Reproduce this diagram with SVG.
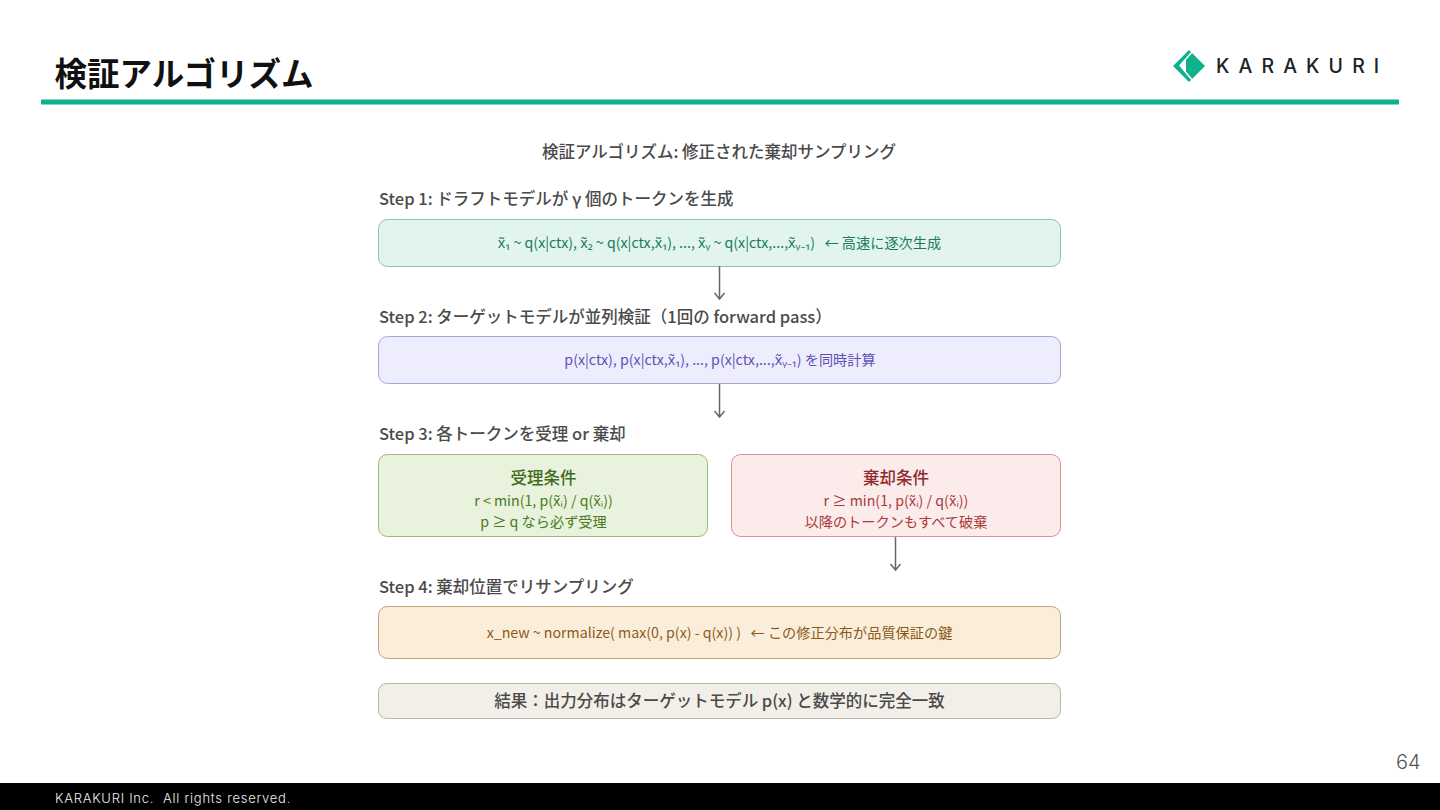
<svg xmlns="http://www.w3.org/2000/svg" width="1440" height="810" viewBox="0 0 1440 810">
<style>
text{font-family:"Noto Sans CJK JP","Noto Sans",sans-serif;white-space:pre}
.h{font-size:16.500px;font-weight:500;fill:#4a4a4a}
.c{text-anchor:middle}
.b{stroke-width:1;}
.l{font-size:14.200px}
.conn path{fill:none;stroke:#666;stroke-width:1.500}
</style>
<rect width="1440" height="810" fill="#fff"/>
<g id="header">
<text x="54.500" y="86" font-size="32.500" font-weight="700" fill="#111">検証アルゴリズム</text>
<rect x="41" y="99.500" width="1358" height="5" fill="#0fb08c"/>
</g>
<g id="logo">
<path d="M1189 50L1205 66L1189 82L1173 66Z" fill="#0fb08c"/>
<path d="M1193 51L1180 65.500L1193 81" stroke="#fff" stroke-width="1.500" fill="none"/>
<path d="M1180 65.500L1186 59V72Z" fill="#fff"/>
<text x="1216" y="73" font-size="19.500" font-weight="500" letter-spacing="9.100" fill="#222" style="font-family:'Inter',sans-serif">KARAKURI</text>
</g>
<text class="h c" x="719" y="157.500" id="diagram-title">検証アルゴリズム: 修正された棄却サンプリング</text>
<g id="step1">
<text class="h" x="379" y="204.500">Step 1: ドラフトモデルが γ 個のトークンを生成</text>
<rect class="b" x="378.500" y="219.500" width="682" height="47" rx="9" fill="#e1f4ee" stroke="#8cc4b3"/>
<text class="l c" x="719.500" y="247.500" fill="#1a7a60">x̃₁ ~ q(x|ctx), x̃₂ ~ q(x|ctx,x̃₁), ..., x̃ᵧ ~ q(x|ctx,...,x̃ᵧ₋₁)   ← 高速に逐次生成</text>
</g>
<g id="step2">
<text class="h" x="379" y="322.500">Step 2: ターゲットモデルが並列検証（1回の forward pass）</text>
<rect class="b" x="378.500" y="336.500" width="682" height="47" rx="9" fill="#eeedfd" stroke="#a9a6d6"/>
<text class="l c" x="720" y="365" fill="#5a52b5">p(x|ctx), p(x|ctx,x̃₁), ..., p(x|ctx,...,x̃ᵧ₋₁) を同時計算</text>
</g>
<g id="step3"><text class="h" x="379" y="439.500">Step 3: 各トークンを受理 or 棄却</text></g>
<g id="accept">
<rect class="b" x="378.500" y="454.500" width="329" height="82" rx="9" fill="#e8f2dd" stroke="#9dba80"/>
<text class="c" x="543.500" y="483.500" font-size="16.500" font-weight="500" fill="#3f6b1c">受理条件</text>
<text class="l c" x="543.500" y="506" fill="#4a7a22">r &lt; min(1, p(x̃ᵢ) / q(x̃ᵢ))</text>
<text class="l c" x="543.500" y="527" fill="#4a7a22">p ≥ q なら必ず受理</text>
</g>
<g id="reject">
<rect class="b" x="731.500" y="454.500" width="329" height="82" rx="9" fill="#fcebeb" stroke="#cf9797"/>
<text class="c" x="896" y="483.500" font-size="16.500" font-weight="500" fill="#8f2a2a">棄却条件</text>
<text class="l c" x="896" y="506" fill="#a83a3a">r ≥ min(1, p(x̃ᵢ) / q(x̃ᵢ))</text>
<text class="l c" x="896" y="527" fill="#a83a3a">以降のトークンもすべて破棄</text>
</g>
<g id="step4">
<text class="h" x="379" y="592.500">Step 4: 棄却位置でリサンプリング</text>
<rect class="b" x="378.500" y="606.500" width="682" height="52" rx="9" fill="#faeeda" stroke="#c4a578"/>
<text class="l c" x="719.500" y="638" fill="#8a5a1a">x_new ~ normalize( max(0, p(x) - q(x)) )   ← この修正分布が品質保証の鍵</text>
</g>
<g id="result">
<rect class="b" x="378.500" y="683.500" width="682" height="35" rx="8" fill="#f1efe8" stroke="#b8b6ad"/>
<text class="c" x="719.500" y="706.500" font-size="16.500" font-weight="500" fill="#4a4a4a">結果：出力分布はターゲットモデル p(x) と数学的に完全一致</text>
</g>
<g class="conn" id="connectors">
<path d="M719.500 266V299M714.500 293L719.500 299L724.500 293"/>
<path d="M719.500 384V417M714.500 411L719.500 417L724.500 411"/>
<path d="M895.500 537V570M890.500 564L895.500 570L900.500 564"/>
</g>
<g id="footer">
<text x="1396" y="769" font-size="20" font-weight="300" fill="#555" style="font-family:'Inter',sans-serif">64</text>
<rect y="783" width="1440" height="27" fill="#000"/>
<text x="55" y="803" font-size="13" font-weight="300" letter-spacing="0.750" fill="#eee" style="font-family:'Inter',sans-serif">KARAKURI Inc.  All rights reserved.</text>
</g>
</svg>
